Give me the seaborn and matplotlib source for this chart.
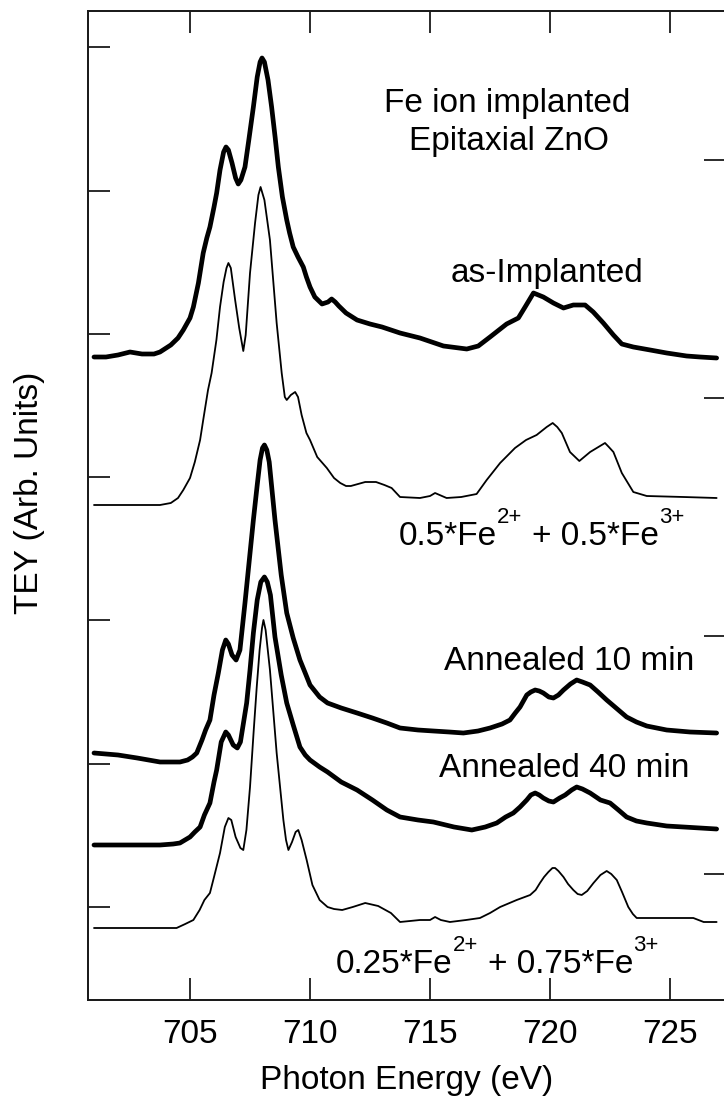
import matplotlib
matplotlib.use("Agg")
import matplotlib.pyplot as plt
import seaborn as sns
import pandas as pd

# Fe L-edge TEY spectra: photon energy (eV) and intensity (arb. units, vertically offset)
energy_as_impl = [701.0, 701.5, 702.0, 702.5, 703.0, 703.5, 703.75, 704.2, 704.5, 704.72,
                  705.0, 705.14, 705.35, 705.55, 705.7, 705.83, 706.0, 706.11, 706.25, 706.4,
                  706.5, 706.6, 706.75, 706.9, 707.01, 707.12, 707.29, 707.45, 707.64, 707.8,
                  707.92, 708.0, 708.1, 708.25, 708.4, 708.55, 708.68, 708.85, 709.03, 709.15,
                  709.3, 709.5, 709.72, 709.85, 710.0, 710.2, 710.5, 710.75, 710.9, 711.05,
                  711.2, 711.5, 711.96, 712.5, 713.0, 713.75, 714.58, 715.56, 716.53, 717.01,
                  717.5, 718.19, 718.68, 718.96, 719.31, 719.72, 720.14, 720.56, 720.97, 721.46,
                  721.8, 722.22, 722.64, 722.99, 723.47, 724.17, 724.86, 725.69, 726.25, 726.94]
tey_as_impl = [643, 643, 645, 648, 646, 646, 648, 655, 662, 670,
               682, 693, 717, 747, 762, 773, 793, 807, 830, 848,
               853, 850, 837, 822, 816, 820, 833, 860, 893, 923,
               938, 942, 938, 920, 893, 862, 833, 803, 780, 767,
               753, 743, 733, 723, 713, 703, 696, 698, 701, 698,
               694, 687, 680, 676, 673, 667, 662, 654, 651, 654,
               663, 676, 682, 693, 707, 703, 697, 692, 695, 695,
               688, 677, 665, 656, 653, 650, 647, 644, 643, 642]

energy_mix_half = [701.0, 703.75, 704.2, 704.5, 704.72, 705.0, 705.2, 705.42, 705.55, 705.75,
                   705.9, 706.1, 706.25, 706.4, 706.52, 706.6, 706.7, 706.88, 707.05, 707.22,
                   707.32, 707.5, 707.71, 707.85, 707.94, 708.1, 708.33, 708.61, 708.82, 708.95,
                   709.03, 709.2, 709.38, 709.5, 709.65, 709.85, 710.0, 710.3, 710.7, 711.0,
                   711.26, 711.5, 711.7, 712.0, 712.3, 712.75, 713.1, 713.4, 713.75, 714.58,
                   715.0, 715.21, 715.4, 715.69, 716.3, 716.94, 717.36, 717.92, 718.54, 719.0,
                   719.44, 719.86, 720.11, 720.3, 720.49, 720.83, 721.22, 721.67, 722.29, 722.45,
                   722.64, 722.99, 723.47, 724.03, 725.56, 726.94]
tey_mix_half = [495, 495, 497, 502, 510, 522, 538, 560, 580, 610,
                627, 660, 693, 718, 732, 737, 732, 700, 672, 649,
                665, 727, 777, 805, 813, 800, 760, 677, 627, 603,
                600, 605, 608, 603, 585, 567, 560, 543, 532, 522,
                517, 514, 514, 516, 518, 518, 515, 512, 503, 502,
                504, 507, 505, 502, 503, 506, 520, 537, 552, 560,
                565, 573, 577, 573, 567, 548, 539, 548, 557, 553,
                548, 527, 508, 504, 503, 502]

energy_ann10 = [701.0, 702.0, 702.8, 703.75, 704.3, 704.58, 704.9, 705.1, 705.28, 705.5,
                705.65, 705.83, 706.0, 706.18, 706.35, 706.49, 706.6, 706.75, 706.92, 707.08,
                707.29, 707.45, 707.64, 707.8, 707.92, 708.02, 708.1, 708.2, 708.3, 708.54,
                708.8, 709.03, 709.3, 709.58, 709.8, 710.0, 710.4, 710.73, 711.3, 711.96,
                712.6, 713.2, 713.75, 714.5, 715.14, 715.8, 716.39, 717.0, 717.5, 718.0,
                718.33, 718.55, 718.75, 719.03, 719.2, 719.38, 719.55, 719.72, 719.95, 720.14,
                720.35, 720.56, 720.85, 721.11, 721.35, 721.67, 722.0, 722.36, 722.8, 723.19,
                723.6, 724.03, 724.86, 725.83, 726.94]
tey_ann10 = [247, 245, 242, 238, 238, 238, 240, 243, 247, 260,
             270, 280, 305, 327, 350, 360, 356, 345, 340, 350,
             397, 435, 480, 515, 540, 552, 555, 550, 538, 480,
             425, 387, 362, 340, 327, 315, 303, 297, 292, 287,
             282, 277, 272, 270, 269, 268, 267, 269, 272, 276,
             280, 287, 293, 305, 308, 310, 309, 307, 303, 302,
             305, 310, 316, 320, 318, 315, 308, 300, 291, 283,
             278, 274, 270, 268, 267]

energy_ann40 = [701.0, 702.0, 703.0, 703.75, 704.3, 704.58, 705.0, 705.2, 705.42, 705.6,
                705.83, 706.0, 706.11, 706.3, 706.49, 706.6, 706.8, 706.97, 707.1, 707.36,
                707.5, 707.64, 707.8, 707.95, 708.1, 708.22, 708.35, 708.54, 708.8, 709.03,
                709.3, 709.58, 709.8, 710.0, 710.4, 710.73, 711.3, 711.96, 712.6, 713.2,
                713.75, 714.5, 715.14, 716.0, 716.74, 717.3, 717.78, 718.15, 718.47, 718.75,
                719.03, 719.2, 719.38, 719.55, 719.72, 719.95, 720.14, 720.4, 720.63, 720.9,
                721.11, 721.35, 721.67, 722.1, 722.5, 722.85, 723.19, 723.6, 724.03, 724.86,
                725.56, 726.94]
tey_ann40 = [155, 155, 155, 155, 156, 157, 163, 168, 173, 185,
             197, 218, 230, 258, 268, 265, 255, 252, 258, 297,
             330, 367, 400, 418, 423, 418, 405, 363, 325, 297,
             275, 253, 245, 240, 233, 228, 218, 210, 200, 190,
             183, 180, 178, 173, 170, 173, 177, 183, 187, 193,
             200, 205, 207, 205, 202, 199, 198, 202, 205, 210,
             213, 211, 207, 200, 197, 190, 183, 179, 177, 174,
             173, 171]

energy_mix_quarter = [701.0, 704.0, 704.44, 704.8, 705.14, 705.4, 705.6, 705.83, 706.0, 706.25,
                      706.45, 706.6, 706.72, 706.9, 707.1, 707.22, 707.35, 707.5, 707.65, 707.78,
                      707.9, 708.0, 708.06, 708.15, 708.33, 708.61, 708.89, 709.0, 709.1, 709.25,
                      709.4, 709.51, 709.65, 709.86, 710.1, 710.4, 710.73, 711.0, 711.34, 711.78,
                      712.3, 712.84, 713.37, 713.75, 714.58, 715.0, 715.21, 715.45, 715.83, 716.5,
                      717.08, 717.5, 717.92, 718.61, 719.17, 719.4, 719.58, 719.75, 719.93, 720.1,
                      720.21, 720.35, 720.56, 720.75, 720.97, 721.15, 721.32, 721.55, 721.81, 722.1,
                      722.36, 722.55, 722.78, 723.0, 723.26, 723.45, 723.61, 724.0, 724.86, 725.97,
                      726.4, 726.94]
tey_mix_quarter = [72, 72, 72, 76, 80, 90, 100, 107, 123, 147,
                   173, 182, 180, 163, 152, 150, 170, 213, 268, 313,
                   350, 372, 380, 370, 330, 247, 180, 160, 150, 158,
                   168, 170, 160, 140, 115, 100, 93, 91, 90, 93,
                   97, 94, 87, 78, 80, 80, 83, 80, 78, 80,
                   82, 87, 93, 100, 105, 110, 117, 123, 128, 132,
                   132, 129, 123, 116, 110, 106, 105, 109, 117, 125,
                   129, 126, 120, 108, 93, 86, 82, 82, 82, 82,
                   78, 78]

x_ticks = [705, 710, 715, 720, 725]
left_ticks = [93, 236.3, 379.6, 522.9, 666.2, 809.5, 952.8]
right_ticks = [126, 364, 602, 840]

sns.set_theme(style="ticks")
plt.rcParams["font.family"] = ["Liberation Sans", "DejaVu Sans"]
plt.rcParams["text.color"] = "black"
plt.rcParams["axes.labelcolor"] = "black"
plt.rcParams["xtick.color"] = "black"
plt.rcParams["ytick.color"] = "black"

INK = "#1a1a1a"
FS = 24

fig = plt.figure(figsize=(7.24, 11.01), dpi=100)
ax = fig.add_axes([88 / 724, 101 / 1101, 637.5 / 724, 989 / 1101])

spectra = [
    (energy_as_impl, tey_as_impl, 3.4),
    (energy_mix_half, tey_mix_half, 1.3),
    (energy_ann10, tey_ann10, 3.4),
    (energy_ann40, tey_ann40, 3.4),
    (energy_mix_quarter, tey_mix_quarter, 1.3),
]
for e, t, lw in spectra:
    df = pd.DataFrame({"energy": e, "tey": t})
    sns.lineplot(data=df, x="energy", y="tey", ax=ax, color="black", linewidth=lw,
                 estimator=None, sort=False)

ax.set_xlim(700.75, 727.31)
ax.set_ylim(0, 989)
ax.set_xticks(x_ticks)
ax.set_xticklabels([str(v) for v in x_ticks])
ax.set_yticks(left_ticks)
ax.tick_params(axis="x", which="both", direction="in", top=True, bottom=True,
               length=15.8, width=1.3, color=INK, labelsize=FS, pad=13.5)
ax.tick_params(axis="y", which="both", direction="in", left=True, right=False,
               length=15.8, width=1.3, color=INK, labelleft=False)
for s in ax.spines.values():
    s.set_linewidth(1.3)
    s.set_color(INK)

ax2 = ax.twinx()
ax2.set_ylim(ax.get_ylim())
ax2.set_yticks(right_ticks)
ax2.tick_params(axis="y", direction="in", right=True, left=False, length=15.8,
                width=1.3, color=INK, labelright=False)
for s in ax2.spines.values():
    s.set_linewidth(1.3)
    s.set_color(INK)

ax.set_xlabel("Photon Energy (eV)", fontsize=FS, labelpad=11)
ax.set_ylabel("TEY (Arb. Units)", fontsize=FS)
ax.yaxis.set_label_coords(-0.0675, 0.513)


def ion_mixture(x, y, first, second):
    """Write e.g. 0.5*Fe^2+ + 0.5*Fe^3+ with raised charge labels."""
    sup = 22
    t1 = ax.text(x, y, f"{first}*Fe", fontsize=FS, ha="left", va="baseline")
    s1 = ax.annotate("2+", xy=(1, y + sup), xycoords=(t1, "data"), fontsize=16,
                     ha="left", va="baseline")
    t2 = ax.annotate(f"+ {second}*Fe", xy=(1, y), xycoords=(s1, "data"),
                     xytext=(7, 0), textcoords="offset points", fontsize=FS,
                     ha="left", va="baseline")
    ax.annotate("3+", xy=(1, y + sup), xycoords=(t2, "data"), fontsize=16,
                ha="left", va="baseline")


ax.text(718.2, 888, "Fe ion implanted", fontsize=FS, ha="center", va="baseline")
ax.text(718.27, 850, "Epitaxial ZnO", fontsize=FS, ha="center", va="baseline")
ax.text(719.86, 718, "as-Implanted", fontsize=FS, ha="center", va="baseline")
ion_mixture(713.71, 455, "0.5", "0.5")
ax.text(720.8, 330, "Annealed 10 min", fontsize=FS, ha="center", va="baseline")
ax.text(720.6, 223, "Annealed 40 min", fontsize=FS, ha="center", va="baseline")
ion_mixture(711.08, 27, "0.25", "0.75")

fig.savefig("out.png", dpi=100)
